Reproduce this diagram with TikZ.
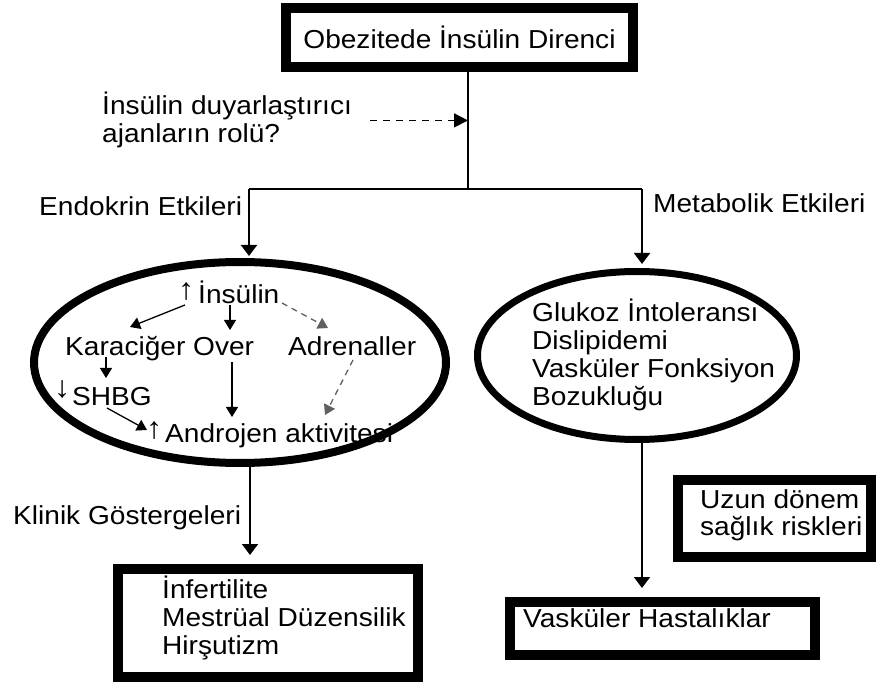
\documentclass[tikz,border=0pt]{standalone}
\usepackage{fontspec}
\setmainfont[FakeStretch=1.08]{Liberation Sans}
\usetikzlibrary{shapes.geometric,arrows.meta,calc}
\begin{document}
\begin{tikzpicture}[x=1pt,y=-1pt,
  font=\fontsize{26}{28}\selectfont,
  txt/.style={inner sep=0pt, anchor=base west, align=left},
  smallarr/.style={inner sep=0pt, anchor=base west, font=\fontsize{30}{30}\selectfont},
  thickbox/.style={draw, line width=10pt, inner sep=0pt},
  thickell/.style={draw, ellipse, inner sep=0pt},
  conn/.style={line width=2pt},
  connarr/.style={line width=2pt, -{Triangle[width=16pt,length=11pt]}},
  inarr/.style={line width=1.3pt, -{Triangle[width=12pt,length=10pt]}},
  indash/.style={line width=1.3pt, gray!75!black, dash pattern=on 6pt off 5pt, -{Triangle[width=12pt,length=10pt]}},
  maindash/.style={line width=1.5pt, dash pattern=on 7pt off 6pt, -{Triangle[width=14pt,length=14pt]}}
]
\fill[white] (0,0) rectangle (876,684);
\useasboundingbox (0,0) rectangle (876,684);

% boxes and ellipses
\node[thickbox, minimum width=347pt, minimum height=59pt] (top) at (459.5,37.5) {Obezitede İnsülin Direnci};
\node[thickell, line width=8pt, minimum width=412pt, minimum height=201pt] (lell) at (240,362.5) {};
\node[thickell, line width=7pt, minimum width=319pt, minimum height=168pt] (rell) at (637,355.5) {};
\node[thickbox, minimum width=300pt, minimum height=108pt] (kbox) at (268,623) {};
\node[thickbox, minimum width=305pt, minimum height=53pt] (vbox) at (662.5,628.5) {};
\node[thickbox, minimum width=193pt, minimum height=77pt] (ubox) at (774.5,518.5) {};

% labels (base west = baseline of the last line)
\node[txt] (duyar) at (102,143) {İnsülin duyarlaştırıcı\\ajanların rolü?};
\node[txt] (endo) at (39,216) {Endokrin Etkileri};
\node[txt] (meta) at (653,213) {Metabolik Etkileri};
\node[txt] (klin) at (13,525) {Klinik Göstergeleri};
\node[txt] (rtext) at (532,406) {Glukoz İntoleransı\\Dislipidemi\\Vasküler Fonksiyon\\Bozukluğu};
\node[txt] (ktext) at (162,654) {İnfertilite\\Mestrüal Düzensilik\\Hirşutizm};
\node[txt] (vtext) at (523,627) {Vasküler Hastalıklar};
\node[txt] (utext) at (700,536) {Uzun dönem\\sağlık riskleri};

% inside left ellipse
\node[txt] (ins) at (198,304) {İnsülin};
\node[smallarr] (insup) at (178,300) {↑};
\node[txt] (kar) at (65,356) {Karaciğer};
\node[txt] (over) at (193,356) {Over};
\node[txt] (adr) at (288,356) {Adrenaller};
\node[txt] (shbg) at (72,406) {SHBG};
\node[smallarr] (shbgdn) at (54,398) {↓};
\node[txt] (andr) at (165,443) {Androjen aktivitesi};
\node[smallarr] (andrup) at (146,439) {↑};

% main connectors
\coordinate (split) at (468,189);
\coordinate (lsplit) at (249,189);
\coordinate (rsplit) at (642,189);
\draw[conn] (top.south -| split) -- (split);
\draw[conn] (lsplit) -- (rsplit);
\draw[connarr, shorten >=2pt] (lsplit) -- (lsplit |- lell.north);
\draw[connarr, shorten >=4pt] (rsplit) -- (rsplit |- rell.north);
\draw[connarr, shorten >=9pt] ($(lell.south -| lsplit)+(1,0)$) -- ($(kbox.north -| lsplit)+(1,0)$);
\draw[connarr, shorten >=9pt] (rell.south -| rsplit) -- (vbox.north -| rsplit);
\draw[maindash] ($(duyar.east)+(18,0)$) -- (duyar.east -| split);

% inner connectors
\draw[inarr] ($(ins.base west)+(-13,1)$) -- ($(kar.base west)+(65,-29)$);
\draw[inarr] ($(ins.base west)+(32,1)$) -- ($(over.base west)+(37,-26)$);
\draw[indash] ($(ins.base west)+(84,-1)$) -- ($(adr.base west)+(40,-28)$);
\draw[inarr] ($(kar.base west)+(41,1)$) -- ($(shbg.base west)+(34,-28)$);
\draw[inarr] ($(shbg.base west)+(35,2)$) -- ($(andr.base west)+(-18,-13)$);
\draw[inarr] ($(over.base west)+(39,6)$) -- ($(andr.base west)+(67,-26)$);
\draw[indash] ($(adr.base west)+(65,4)$) -- ($(andr.base west)+(160,-28)$);
\end{tikzpicture}
\end{document}
